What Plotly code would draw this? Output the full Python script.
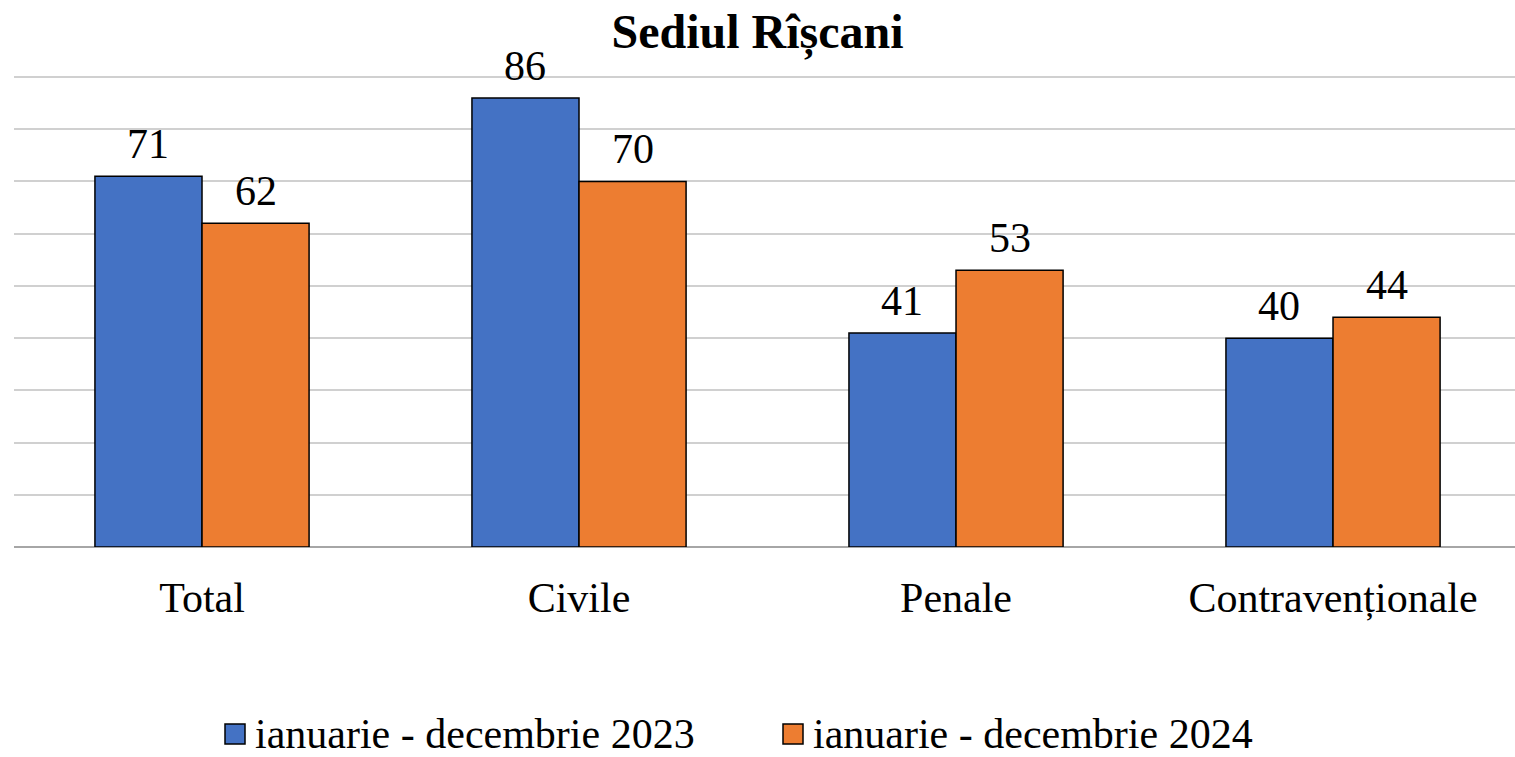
import plotly.graph_objects as go

# Chart data
categories = ["Total", "Civile", "Penale", "Contravenționale"]
series_names = ["ianuarie - decembrie 2023", "ianuarie - decembrie 2024"]
values_2023 = [71, 86, 41, 40]
values_2024 = [62, 70, 53, 44]
colors = ["#4472C4", "#ED7D31"]

FONT = "Liberation Serif"

fig = go.Figure()
for name, vals, col in zip(series_names, [values_2023, values_2024], colors):
    fig.add_trace(go.Bar(
        x=categories, y=vals, name=name, showlegend=False,
        marker=dict(color=col, line=dict(color="#000000", width=1.5)),
    ))

# Value labels above each bar (offset to the left/right half of the group)
bar_w = 0.284
for k, vals in enumerate([values_2023, values_2024]):
    off = (-0.5 + k) * bar_w
    for i, v in enumerate(vals):
        fig.add_annotation(
            x=i + off, y=v, xref="x", yref="y", text=str(v),
            showarrow=False, yanchor="bottom", yshift=7,
            font=dict(family=FONT, size=42, color="#000000"),
        )

# Legend drawn below the plot: square swatch with black border + label
legend_x = [225, 783]          # left edge of each swatch, px
legend_yc = 734                # vertical centre, px
W, H = 1515, 757
T, B = 76, 210
for name, col, lx in zip(series_names, colors, legend_x):
    fig.add_shape(
        type="rect", xref="paper", yref="paper",
        x0=(lx - 14) / (W - 14), x1=(lx + 20 - 14) / (W - 14),
        y0=(H - B - (legend_yc + 10)) / (H - B - T),
        y1=(H - B - (legend_yc - 10)) / (H - B - T),
        fillcolor=col, line=dict(color="#000000", width=1.5),
    )
    fig.add_annotation(
        xref="paper", yref="paper",
        x=(lx + 28 - 14) / (W - 14),
        y=(H - B - legend_yc) / (H - B - T),
        text=name, showarrow=False, xanchor="left", yanchor="middle",
        font=dict(family=FONT, size=42, color="#000000"),
    )

fig.update_layout(
    width=W, height=H,
    margin=dict(l=14, r=0, t=T, b=B),
    paper_bgcolor="white", plot_bgcolor="white",
    title=dict(text="<b>Sediul Rîșcani</b>", x=0.5, xanchor="center",
               y=1 - 31 / H, yanchor="middle",
               font=dict(family=FONT, size=48, color="#000000")),
    barmode="group", bargap=0.432, bargroupgap=0,
    showlegend=False,
    font=dict(family=FONT, color="#000000"),
)
fig.update_xaxes(
    type="category", range=[-0.4987, 3.4827],
    showgrid=False, showline=False, ticks="",
    tickfont=dict(family=FONT, size=42, color="#000000"),
    ticklabelstandoff=22,
)
fig.update_yaxes(
    range=[0, 90.2], tickvals=list(range(10, 100, 10)),
    showgrid=True, gridcolor="#d0d0d0", gridwidth=1.5,
    showticklabels=False, zeroline=True, zerolinecolor="#a6a6a6", zerolinewidth=1.5,
)

fig.write_html("out.html")
